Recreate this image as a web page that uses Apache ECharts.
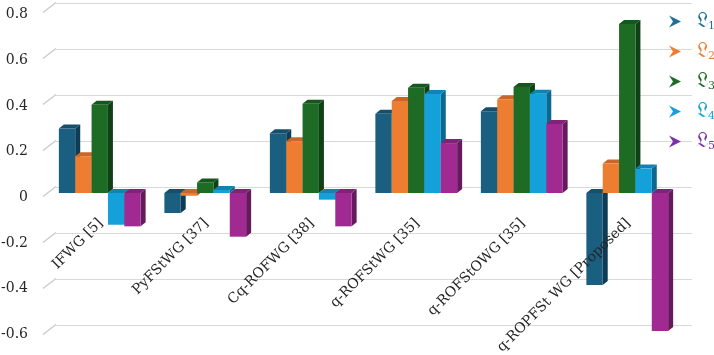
<!DOCTYPE html>
<html><head><meta charset="utf-8">
<script src="https://cdn.jsdelivr.net/npm/echarts@6/dist/echarts.min.js"></script>
<style>html,body{margin:0;padding:0;background:#fff}#c{width:714px;height:355px}</style>
</head><body><div id="c"></div>
<script>
const categories = ['IFWG [5]', 'PyFStWG [37]', 'Cq-ROFWG [38]', 'q-ROFStWG [35]', 'q-ROFStOWG [35]', 'q-ROPFSt WG [Proposed]'];
const seriesNames = ['L1', 'L2', 'L3', 'L4', 'L5'];
const L1 = [0.28, -0.087, 0.26, 0.345, 0.355, -0.40];
const L2 = [0.16, -0.012, 0.225, 0.40, 0.408, 0.128];
const L3 = [0.384, 0.046, 0.388, 0.458, 0.461, 0.735];
const L4 = [-0.138, 0.013, -0.029, 0.43, 0.432, 0.106];
const L5 = [-0.145, -0.19, -0.145, 0.217, 0.30, -0.60];
const yTicks = [-0.6, -0.4, -0.2, 0, 0.2, 0.4, 0.6, 0.8];

const allValues = [L1, L2, L3, L4, L5];
const front = ['#1A5E80', '#ED7D31', '#1E6B26', '#14A0D8', '#A02A92'];
const topC = ['#174E6A', '#C9672A', '#17561F', '#1083B2', '#812277'];
const sideC = ['#0F3C53', '#B0561F', '#113F16', '#0C6890', '#661A5E'];
const legendColors = ['#1F6F96', '#ED7D31', '#1E6B26', '#14A0D8', '#7B2FA8'];

const chart = echarts.init(document.getElementById('c'), null, {renderer: 'canvas'});

function makeRender(si) {
  return function (params, api) {
    const cat = api.value(0), v = api.value(1);
    const base = api.coord([cat, 0]);
    const tp = api.coord([cat, v]);
    const band = api.size([1, 0])[0];
    const gw = band * 0.775;
    const bw = gw / 5;
    const x0 = base[0] - gw / 2 + si * bw;
    const yT = Math.min(base[1], tp[1]), yB = Math.max(base[1], tp[1]);
    const dx = 5, dy = 4;
    return {
      type: 'group',
      children: [
        {type: 'polygon', shape: {points: [[x0 + bw, yT], [x0 + bw + dx, yT - dy], [x0 + bw + dx, yB - dy], [x0 + bw, yB]]}, style: {fill: sideC[si]}},
        {type: 'polygon', shape: {points: [[x0, yT], [x0 + bw, yT], [x0 + bw + dx, yT - dy], [x0 + dx, yT - dy]]}, style: {fill: topC[si]}},
        {type: 'rect', shape: {x: x0, y: yT, width: bw, height: yB - yT}, style: {fill: front[si]}}
      ]
    };
  };
}

const barSeries = allValues.map((vals, si) => ({
  name: seriesNames[si],
  type: 'custom',
  xAxisIndex: 0, yAxisIndex: 0,
  renderItem: makeRender(si),
  itemStyle: {color: legendColors[si]},
  encode: {x: 0, y: 1},
  data: vals.map((v, i) => [i, v]),
  clip: false,
  z: 5
}));

// wall connectors: one item per y tick, in the bar plane, using the value axis scale
const wallSeries = {
  type: 'custom', xAxisIndex: 0, yAxisIndex: 0, silent: true, z: 7, clip: false,
  data: yTicks.map(v => [0, v]),
  encode: {x: 0, y: 1},
  renderItem: function (params, api) {
    const q = api.coord([api.value(0), api.value(1)]);
    const band = api.size([1, 0])[0];
    const x2 = q[0] - band / 2 + 9, y2 = q[1] - 6.5;
    return {type: 'polyline',
      shape: {points: [[x2 - 13, y2 + 10], [x2, y2]]},
      style: {stroke: '#c8c8c8', lineWidth: 1.2, fill: 'none'}};
  }
};

// category labels at the zero line
const labelSeries = {
  type: 'custom', xAxisIndex: 0, yAxisIndex: 0, silent: true, z: 6, clip: false,
  data: categories.map((c, i) => [i, 0]),
  encode: {x: 0, y: 1},
  renderItem: function (params, api) {
    const i = api.value(0);
    const p = api.coord([i, 0]);
    return {type: 'text', x: p[0] + 1, y: p[1] + 28, rotation: Math.PI / 4,
      style: {text: categories[i], align: 'right', verticalAlign: 'middle',
        font: '14px "DejaVu Serif"', fill: '#262626'}};
  }
};

const option = {
  animation: false,
  grid: [
    {left: 47, right: 34, top: 9, height: 322, containLabel: false, outerBoundsMode: 'none'},
    {left: 56, right: 22, top: 3, height: 322, containLabel: false, outerBoundsMode: 'none'},
    {left: 36, right: 34, top: 14.5, height: 320, containLabel: false, outerBoundsMode: 'none'}
  ],
  xAxis: [
    {gridIndex: 0, type: 'category', data: categories, show: false},
    {gridIndex: 1, type: 'value', min: 0, max: 1, show: false},
    {gridIndex: 2, type: 'value', min: 0, max: 1, show: false}
  ],
  yAxis: [
    {gridIndex: 0, type: 'value', min: -0.6, max: 0.8, interval: 0.2, show: false},
    {gridIndex: 1, type: 'value', min: -0.6, max: 0.8, interval: 0.2,
      axisLine: {show: false}, axisTick: {show: false}, axisLabel: {show: false},
      splitLine: {show: true, lineStyle: {color: '#d9d9d9', width: 1}}},
    {gridIndex: 2, type: 'value', min: -0.6, max: 0.8, interval: 0.2,
      axisLine: {show: false}, axisTick: {show: false}, splitLine: {show: false},
      axisLabel: {margin: 8, fontFamily: 'DejaVu Serif', fontSize: 14, color: '#262626',
        formatter: v => Math.abs(v) < 1e-9 ? '0' : v.toFixed(1)}}
  ],
  legend: {
    orient: 'vertical', left: 664, top: 6, itemWidth: 12, itemHeight: 12, itemGap: 9,
    icon: 'path://M0,0 L12,6 L0,12 L4,6 Z',
    data: seriesNames.map((n, i) => ({name: n, textStyle: {
      rich: {
        a: {fontFamily: 'DejaVu Serif', fontSize: 21, color: legendColors[i], padding: [0, 0, 0, 10]},
        b: {fontFamily: 'DejaVu Serif', fontSize: 11, color: legendColors[i], verticalAlign: 'bottom', padding: [8, 0, 0, 0]}
      }}})),
    formatter: n => '{a|\u{1D50F}}{b|' + n.slice(1) + '}',
    selectedMode: false
  },
  series: barSeries.concat([labelSeries, wallSeries])
};
chart.setOption(option);
</script></body></html>
